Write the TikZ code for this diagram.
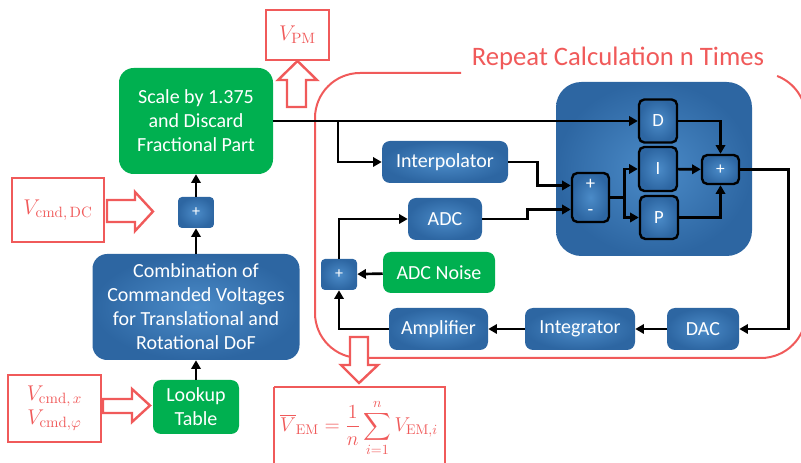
\RequirePackage{fix-cm}
\documentclass[tikz,border=0pt]{standalone}
\usepackage{amsmath}
\usepackage[no-math]{fontspec}
\setmainfont{Carlito}
\usetikzlibrary{arrows.meta,calc}
\definecolor{gr}{HTML}{00B050}
\definecolor{bD}{HTML}{2D66A2}
\definecolor{bL}{HTML}{4B8BC8}
\definecolor{rd}{HTML}{F05A5A}
\tikzset{
  base/.style={inner sep=0pt, align=center, text=white, font=\fontsize{15}{18}\selectfont},
  bluebox/.style={base, rounded corners=6pt, shade, inner color=bL, outer color=bD},
  greenbox/.style={base, rounded corners=6pt, fill=gr},
  pidbox/.style={bluebox, draw=black, line width=1.8pt, rounded corners=4pt, font=\fontsize{14}{18}\selectfont},
  smallplus/.style={bluebox, rounded corners=3pt, font=\fontsize{12}{14}\selectfont},
  redbox/.style={draw=rd, line width=1.8pt, text=rd, inner sep=0pt, align=center, font=\fontsize{16}{18}\selectfont},
  hollow/.style={draw=rd, line width=1.8pt, fill=white},
  loopline/.style={draw=rd, line width=1.5pt},
  conn/.style={draw=black, line width=2pt, -{Triangle[length=6.5pt,width=7pt]}},
}
\begin{document}
\begin{tikzpicture}[x=0.75pt,y=-0.75pt]
\useasboundingbox (0,0) rectangle (801,463);

% repeat loop
\draw[loopline] (461,73) -- (360,73) arc[start angle=90, end angle=180, radius=33.75pt]
  -- (315,313) arc[start angle=180, end angle=270, radius=33.75pt]
  -- (761,358) arc[start angle=270, end angle=360, radius=33.75pt]
  -- (806,118) arc[start angle=0, end angle=69, radius=33.75pt];
\node[text=rd, font=\fontsize{20}{24}\selectfont, inner sep=0pt] (title) at (618,58) {Repeat Calculation n Times};

% left column
\node[redbox, minimum width=47.25pt, minimum height=37.5pt] (vpm) at (297.5,35) {$V_{\mathrm{PM}}$};
\node[greenbox, rounded corners=11pt, minimum width=115.5pt, minimum height=79.5pt] (scale) at (196,121) {Scale by 1.375\\and Discard\\Fractional Part};
\node[smallplus, minimum width=27pt, minimum height=23.25pt] (plus1) at (196,212.5) {+};
\node[redbox, minimum width=69pt, minimum height=48pt] (vdc) at (58,210) {$V_{\mathrm{cmd,\,DC}}$};
\node[bluebox, rounded corners=11pt, minimum width=155.25pt, minimum height=79.5pt] (comb) at (196,307) {Combination of\\Commanded Voltages\\for Translational and\\Rotational DoF};
\node[greenbox, minimum width=64.5pt, minimum height=40.5pt] (lookup) at (196,407) {Lookup\\Table};
\node[redbox, minimum width=69.75pt, minimum height=50.25pt] (vx) at (54.5,408.5) {$V_{\mathrm{cmd},\,x}$\\$V_{\mathrm{cmd},\varphi}$};

% hollow arrows
\draw[hollow] (287,107) -- (287,80) -- (278,80) -- (297.5,61) -- (317,80) -- (306,80) -- (306,107) -- cycle;
\draw[hollow] (107,200) -- (135,200) -- (135,192) -- (153,211.5) -- (135,231) -- (135,222) -- (107,222) -- cycle;
\draw[hollow] (103,399) -- (132,399) -- (132,389) -- (150,405.5) -- (132,422) -- (132,413) -- (103,413) -- cycle;

% PID block
\node[bluebox, rounded corners=19pt, minimum width=147pt, minimum height=130.5pt] (pid) at (654,169) {};
\node[pidbox, minimum width=28.5pt, minimum height=32.25pt] (D) at (658,121) {D};
\node[pidbox, minimum width=28.5pt, minimum height=33pt] (I) at (658,169) {I};
\node[pidbox, minimum width=28.5pt, minimum height=32.25pt] (P) at (659,217.5) {P};
\node[pidbox, minimum width=27.75pt, minimum height=36.75pt, font=\fontsize{14}{19}\selectfont] (sum) at (590.5,197.5) {+\\-};
\node[pidbox, minimum width=27.75pt, minimum height=21.75pt, font=\fontsize{13}{15}\selectfont] (plus2) at (720.5,169.5) {+};

% loop blocks
\node[bluebox, minimum width=94.5pt, minimum height=31.5pt] (interp) at (445,162) {Interpolator};
\node[bluebox, minimum width=55.5pt, minimum height=31.5pt] (adc) at (445,219) {ADC};
\node[greenbox, minimum width=84pt, minimum height=30.75pt] (noise) at (439,272.5) {ADC Noise};
\node[smallplus, minimum width=27pt, minimum height=23.25pt] (plus3) at (339,274.5) {+};
\node[bluebox, minimum width=74.25pt, minimum height=31.5pt] (amp) at (438.5,329) {Amplifier};
\node[bluebox, minimum width=82.5pt, minimum height=31.5pt] (integ) at (580,329) {Integrator};
\node[bluebox, minimum width=54pt, minimum height=31.5pt] (dac) at (703,329) {DAC};

% output arrow and formula
\draw[hollow] (350,337) -- (368,337) -- (368,365) -- (378,365) -- (359,383) -- (341,365) -- (350,365) -- cycle;
\draw[redbox] (274,387) -- (274,470) (274,387) -- (445,387) -- (445,470);
\node[text=rd, font=\fontsize{15}{18}\selectfont, inner sep=0pt] (formula) at (359,428) {$\displaystyle \overline{V}_{\mathrm{EM}} = \frac{1}{n}\sum_{i=1}^{n} V_{\mathrm{EM},i}$};

% connectors left
\draw[conn] (lookup) -- (comb);
\draw[conn] (comb) -- (plus1);
\draw[conn] (plus1) -- (scale);

% connectors loop
\draw[conn] (scale.east) -- (D.west);
\coordinate (br) at (338,121);
\draw[conn] (br) |- (interp.west);
\coordinate (sumA) at ($(sum.west)+(0,-12)$);
\coordinate (sumB) at ($(sum.west)+(0,12)$);
\draw[conn] (interp.east) -- ++(29,0) |- (sumA);
\draw[conn] (adc.east) -- ++(45,0) |- (sumB);
\draw[line width=2pt] (sum.east) -- ++(14,0) coordinate (sj);
\draw[conn] (sj) |- (I.west);
\draw[conn] (sj) |- (P.west);
\draw[conn] (I) -- (plus2);
\draw[conn] (D.east) -| (plus2.north);
\draw[conn] (P.east) -| (plus2.south);
\draw[conn] (plus2.east) -- ++(48,0) |- (dac.east);
\draw[conn] (dac) -- (integ);
\draw[conn] (integ) -- (amp);
\draw[conn] (amp.west) -| (plus3.south);
\draw[conn] (noise) -- (plus3);
\draw[conn] (plus3.north) |- (adc.west);
\end{tikzpicture}
\end{document}
